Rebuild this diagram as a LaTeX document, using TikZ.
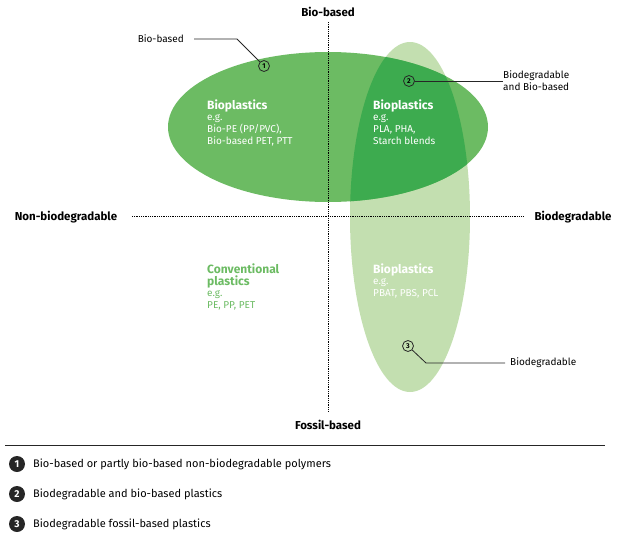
\documentclass[tikz,border=0pt]{standalone}
\usepackage{fontspec}
\setmainfont{Fira Sans}
\begin{document}
\begin{tikzpicture}[x=1pt,y=-1pt,
  lab/.style={font=\fontsize{10}{12}\selectfont, align=left, anchor=north west, inner sep=0},
  ax/.style={font=\fontsize{11.5}{13}\selectfont\bfseries, inner sep=0},
  num/.style={circle, draw=black!85, thick, inner sep=0, minimum size=11pt, font=\fontsize{7}{7}\selectfont\bfseries},
  leg/.style={circle, fill=black!85, text=white, inner sep=0, minimum size=16pt, font=\fontsize{10}{10}\selectfont\bfseries},
  legt/.style={anchor=west, inner sep=0, font=\fontsize{11}{13}\selectfont},
  call/.style={draw=black!85, thick}]
\definecolor{gmid}{HTML}{6CBB63}
\definecolor{glight}{HTML}{C3DFB0}
\definecolor{gdark}{HTML}{3DAB4F}
\useasboundingbox (0,0) rectangle (624,538);
\fill[glight] (410,217) ellipse [x radius=60, y radius=175];
\fill[gmid] (328,127) ellipse [x radius=160, y radius=75];
\begin{scope}
  \clip (328,127) ellipse [x radius=160, y radius=75];
  \fill[gdark] (410,217) ellipse [x radius=60, y radius=175];
\end{scope}
\draw[densely dotted, thick] (328,22) -- (328,412);
\draw[densely dotted, thick] (132,216) -- (524,216);
\node[ax] (bb) at (328,12) {Bio-based};
\node[ax] (fb) at (328,425) {Fossil-based};
\node[ax] (nb) at (66,217) {Non-biodegradable};
\node[ax] (bd) at (573,217) {Biodegradable};
\node[lab, text=white] (t1) at (207,100) {\fontsize{12}{14}\selectfont\bfseries Bioplastics\\[-1pt] e.g.\\ Bio-PE (PP/PVC),\\ Bio-based PET, PTT};
\node[lab, text=white] (t2) at (373,100) {\fontsize{12}{14}\selectfont\bfseries Bioplastics\\[-1pt] e.g.\\ PLA, PHA,\\ Starch blends};
\node[lab, text=white] (t3) at (373,264) {\fontsize{12}{14}\selectfont\bfseries Bioplastics\\[-1pt] e.g.\\ PBAT, PBS, PCL};
\node[lab, text=gmid] (t4) at (207,264) {\fontsize{12}{16}\selectfont\bfseries Conventional\\ \fontsize{12}{14}\selectfont\bfseries plastics\\[-1pt] e.g.\\ PE, PP, PET};
\node[num] (n1) at (264,66) {1};
\node[num] (n2) at (409,81) {2};
\node[num] (n3) at (408,346) {3};
\node[lab, anchor=east] (c1) at (184,39) {Bio-based};
\node[lab, anchor=west] (c2) at (503,81) {Biodegradable\\and Bio-based};
\node[lab, anchor=west] (c3) at (510,363) {Biodegradable};
\coordinate (k1) at (237,39);
\coordinate (k3) at (426,363);
\draw[call] (c1.east) ++(10,0) -- (k1) -- (n1);
\draw[call] (n2) -- (c2.west) ++(-5,0);
\draw[call] (n2.east) -- (498,81);
\draw[call] (n3) -- (k3) -- (505,363);
\draw[black!85, thick] (5,445) -- (605,445);
\node[leg] (l1) at (17,464) {1};
\node[leg] (l2) at (17,494) {2};
\node[leg] (l3) at (17,524) {3};
\node[legt] (lt1) at (33,464) {Bio-based or partly bio-based non-biodegradable polymers};
\node[legt] (lt2) at (33,494) {Biodegradable and bio-based plastics};
\node[legt] (lt3) at (33,524) {Biodegradable fossil-based plastics};
\end{tikzpicture}
\end{document}
